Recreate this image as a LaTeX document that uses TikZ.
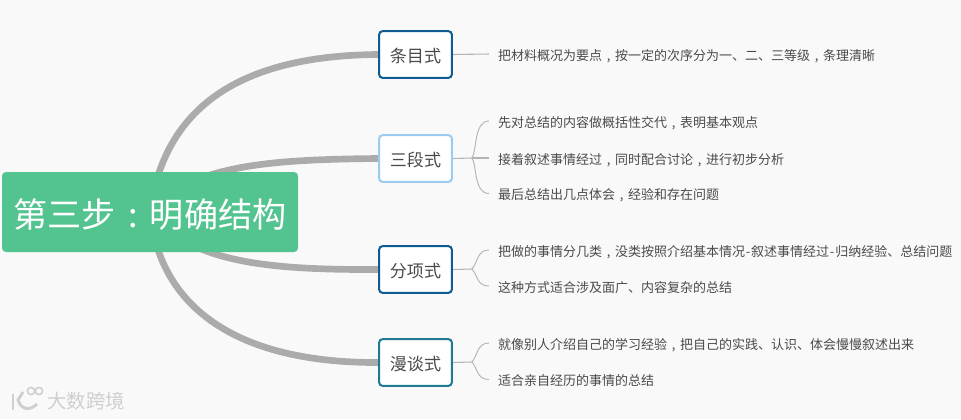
\documentclass[tikz,border=0pt]{standalone}
\usepackage{fontspec}
\setmainfont{Noto Sans CJK SC}
\newcommand{\zc}{\makebox[1em][c]{,}}
\newcommand{\zm}{\makebox[1em][c]{:}}
\newcommand{\zh}{\makebox[.47em][c]{-}}
\usetikzlibrary{backgrounds}
\definecolor{bgc}{HTML}{F9F9F9}
\definecolor{rootc}{HTML}{53C48F}
\definecolor{branchc}{HTML}{ABABAB}
\definecolor{forkc}{HTML}{B4B4B4}
\definecolor{txtc}{HTML}{4A4A4A}
\definecolor{boxa}{HTML}{0F5C93}
\definecolor{boxb}{HTML}{9CCBF0}
\definecolor{boxd}{HTML}{1F7A93}
\definecolor{wm}{HTML}{CFCFCF}
\begin{document}
\begin{tikzpicture}[x=0.75pt,y=-0.75pt,
  rootbox/.style={fill=rootc,rounded corners=3pt,inner sep=0pt,minimum width=222pt,minimum height=60pt,text=white,text height=27pt,text depth=4pt,font=\fontsize{25.6pt}{30pt}\selectfont},
  childbox/.style={draw=#1,fill=white,line width=1.5pt,rounded corners=2.5pt,inner sep=0pt,minimum width=54.5pt,minimum height=35pt,text=txtc,text height=14pt,text depth=2pt,font=\fontsize{12.8pt}{15pt}\selectfont},
  leaf/.style={anchor=west,inner xsep=6.6pt,inner ysep=0pt,text=txtc,text height=11pt,text depth=1.7pt,font=\fontsize{9.75pt}{12pt}\selectfont},
  branch/.style={draw=branchc,line width=5pt},
  stem/.style={draw=forkc,line width=0.8pt},
  fork/.style={draw=forkc,line width=0.7pt}]
\useasboundingbox (0,0) rectangle (961,419);
\node[rootbox] (root) at (150,212) {第三步\zm 明确结构};
\node[childbox=boxa] (a) at (415.5,54.5) {条目式};
\node[childbox=boxb] (b) at (415.5,158.5) {三段式};
\node[childbox=boxa] (c) at (415.5,269.5) {分项式};
\node[childbox=boxd] (d) at (415.5,362.5) {漫谈式};
\node[leaf] (a1) at (489,54) {把材料概况为要点\zc 按一定的次序分为一、二、三等级\zc 条理清晰};
\node[leaf] (b1) at (489,121) {先对总结的内容做概括性交代\zc 表明基本观点};
\node[leaf] (b2) at (489,158) {接着叙述事情经过\zc 同时配合讨论\zc 进行初步分析};
\node[leaf] (b3) at (489,193.5) {最后总结出几点体会\zc 经验和存在问题};
\node[leaf] (c1) at (489,250) {把做的事情分几类\zc 没类按照介绍基本情况\zh 叙述事情经过\zh 归纳经验、总结问题};
\node[leaf] (c2) at (489,286) {这种方式适合涉及面广、内容复杂的总结};
\node[leaf] (d1) at (489,343) {就像别人介绍自己的学习经验\zc 把自己的实践、认识、体会慢慢叙述出来};
\node[leaf] (d2) at (489,379.5) {适合亲自经历的事情的总结};
\coordinate (fb) at (472,158);
\coordinate (fc) at (472,269);
\coordinate (fd) at (472,362);
\begin{scope}[on background layer]
\fill[bgc] (0,0) rectangle (961,419);
\draw[branch] (root.center) .. controls (165,100) and (250,55.5) .. (a.west);
\draw[branch] (root.center) .. controls (190,165) and (270,159.5) .. (b.west);
\draw[branch] (root.center) .. controls (190,262) and (265,270) .. (c.west);
\draw[branch] (root.center) .. controls (160,310) and (240,363) .. (d.west);
\draw[stem] (a.east) -- (a1.west);
\draw[stem] (b.east) -- (fb);
\draw[stem] (c.east) -- (fc);
\draw[stem] (d.east) -- (fd);
\draw[fork] (fb) .. controls (477,150) and (474,121) .. (b1.west);
\draw[stem] (fb) -- (b2.west);
\draw[fork] (fb) .. controls (477,166) and (474,193.5) .. (b3.west);
\draw[fork] (fc) .. controls (478,262) and (477,250) .. (c1.west);
\draw[fork] (fc) .. controls (478,276) and (477,286) .. (c2.west);
\draw[fork] (fd) .. controls (478,355) and (477,343) .. (d1.west);
\draw[fork] (fd) .. controls (478,369) and (477,379.5) .. (d2.west);
\end{scope}
% watermark
\begin{scope}[draw=wm,line width=2.2pt]
\draw (13,394) -- (13,410);
\draw (23,392) -- (18,400) .. controls (21,410) and (30,411) .. (37,404);
\draw[line width=1.2pt] (31,391) circle (3.6);
\draw[line width=1.2pt] (39,391) circle (3.6);
\end{scope}
\node[anchor=west,inner sep=0pt,text=wm,font=\fontsize{14.6pt}{16pt}\selectfont] (wmt) at (47,401) {大数跨境};
\end{tikzpicture}
\end{document}
